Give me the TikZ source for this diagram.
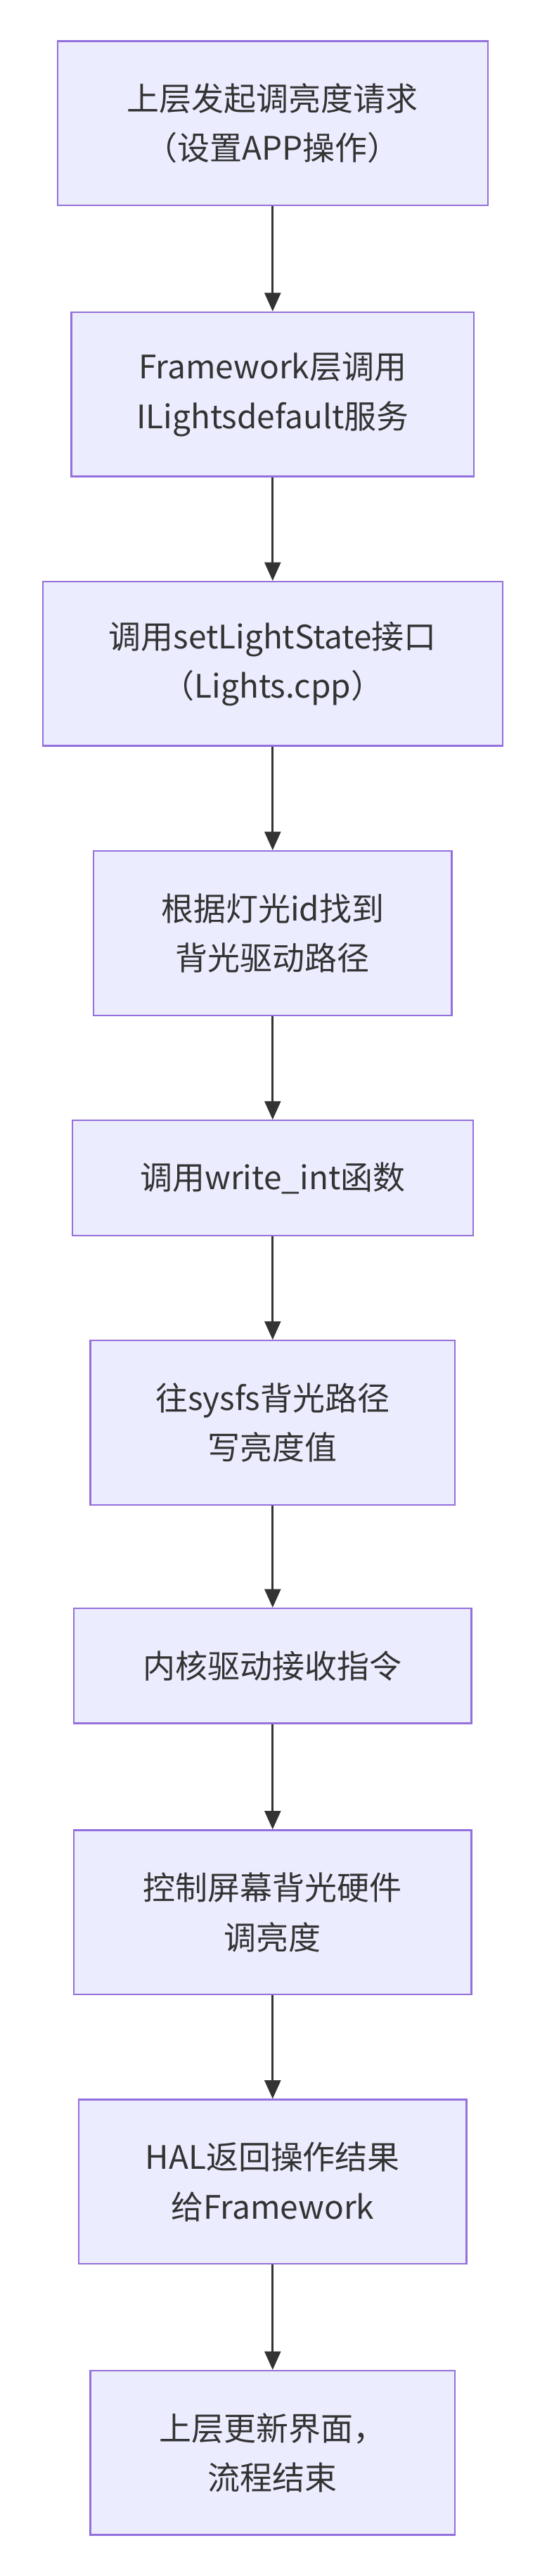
\documentclass[tikz,border=0pt]{standalone}
\usepackage{fontspec}
\setmainfont{Noto Sans CJK SC}
\usetikzlibrary{arrows.meta}
\definecolor{boxfill}{HTML}{ECECFF}
\definecolor{boxline}{HTML}{9370DB}
\definecolor{linkcol}{HTML}{333333}
\tikzset{
  flowbox/.style={draw=boxline, fill=boxfill, line width=1.4pt, align=center,
    text=linkcol, inner sep=0pt, font=\fontsize{28}{43}\selectfont},
  link/.style={draw=linkcol, line width=1.6pt, -{Triangle[length=16pt,width=14pt]}},
}
\begin{document}
\begin{tikzpicture}[x=0.05cm,y=-0.05cm]
\useasboundingbox (0,0) rectangle (333,1568);
\node[flowbox, minimum width=13.1cm, minimum height=5cm] (req) at (166,75) {上层发起调亮度请求\\（设置APP操作）};
\node[flowbox, minimum width=12.25cm, minimum height=5cm] (fw) at (166,240) {Framework层调用\\ILightsdefault服务};
\node[flowbox, minimum width=14cm, minimum height=5cm] (set) at (166,404) {调用setLightState接口\\（Lights.cpp）};
\node[flowbox, minimum width=10.9cm, minimum height=5cm] (find) at (166,568) {根据灯光id找到\\背光驱动路径};
\node[flowbox, minimum width=12.2cm, minimum height=3.5cm] (wint) at (166,717) {调用write\_int函数};
\node[flowbox, minimum width=11.1cm, minimum height=5cm] (sysfs) at (166,866) {往sysfs背光路径\\写亮度值};
\node[flowbox, minimum width=12.1cm, minimum height=3.5cm] (kern) at (166,1014) {内核驱动接收指令};
\node[flowbox, minimum width=12.1cm, minimum height=5cm] (hw) at (166,1164) {控制屏幕背光硬件\\调亮度};
\node[flowbox, minimum width=11.8cm, minimum height=5cm] (hal) at (166,1328) {HAL返回操作结果\\给Framework};
\node[flowbox, minimum width=11.1cm, minimum height=5cm] (done) at (166,1493) {上层更新界面，\\流程结束};
\foreach \a/\b in {req/fw, fw/set, set/find, find/wint, wint/sysfs, sysfs/kern, kern/hw, hw/hal, hal/done}
  \draw[link] (\a) -- (\b);
\end{tikzpicture}
\end{document}
